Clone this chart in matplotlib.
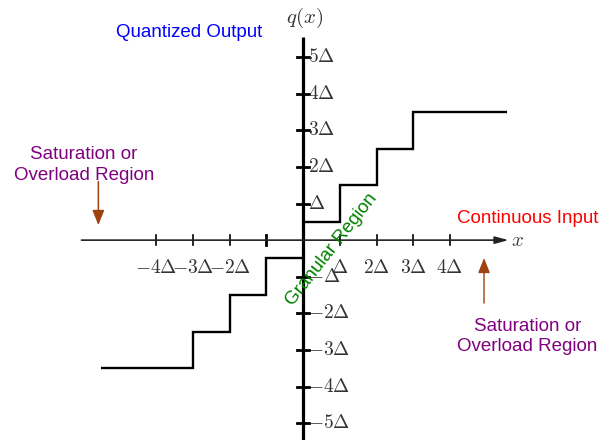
"""Uniform mid-rise quantizer characteristic q(x), drawn headless to out.png."""

import matplotlib

matplotlib.use("Agg")

import matplotlib.pyplot as plt

plt.rcParams["font.family"] = ["Liberation Sans", "DejaVu Sans"]
plt.rcParams["mathtext.fontset"] = "cm"

# staircase in units of delta
pos_edges = [0, 1, 2, 3, 5.55]
pos_levels = [0.5, 1.5, 2.5, 3.5]
neg_edges = [-5.5, -3, -2, -1, 0]
neg_levels = [-3.5, -2.5, -1.5, -0.5]

x_ticks = [-4, -3, -2, -1, 1, 2, 3, 4]
x_tick_labels = [r"$-4\Delta$", r"$-3\Delta$", r"$-2\Delta$", "",
                 r"$\Delta$", r"$2\Delta$", r"$3\Delta$", r"$4\Delta$"]
y_ticks = [5, 4, 3, 2, 1, -1, -2, -3, -4, -5]
y_tick_labels = [r"$5\Delta$", r"$4\Delta$", r"$3\Delta$", r"$2\Delta$", r"$\Delta$",
                 r"$-\Delta$", r"$-2\Delta$", r"$-3\Delta$", r"$-4\Delta$", r"$-5\Delta$"]

fig = plt.figure(figsize=(6, 4.4), dpi=100)
ax = fig.add_axes([0, 0, 1, 1])
ax.set_xlim(-8.26, 8.09)
ax.set_ylim(-5.46, 6.56)
ax.axis("off")

# axes
ax.annotate("", xy=(5.6, 0), xytext=(-6.04, 0),
            arrowprops=dict(arrowstyle="-|>,head_length=0.45,head_width=0.12",
                            color="#222222", lw=1.2, shrinkA=0, shrinkB=0,
                            mutation_scale=18))
ax.plot([0, 0], [-5.7, 5.55], color="black", lw=2.3, solid_capstyle="butt")
ax.text(5.85, 0, "$x$", fontsize=15, color="#444444", ha="center", va="center")
ax.text(0.05, 6.08, "$q(x)$", fontsize=15, color="#333333", ha="center", va="center")

# ticks
for t, lab in zip(x_ticks, x_tick_labels):
    ax.plot([t, t], [-0.14, 0.14], color="black", lw=2.0 if t == -1 else 1.2)
    if lab:
        ax.text(t, -0.75, lab, fontsize=14, color="#333333", ha="center", va="center")
for t, lab in zip(y_ticks, y_tick_labels):
    ax.plot([-0.16, 0.16], [t, t], color="black", lw=2.0)
    ax.text(0.12, t, lab, fontsize=14, color="#333333", ha="left", va="center")

# quantizer staircase
ax.stairs(pos_levels, pos_edges, baseline=None, color="black", lw=1.7)
ax.stairs(neg_levels, neg_edges, baseline=None, color="black", lw=1.7)

# annotations
ax.text(-3.11, 5.66, "Quantized Output", fontsize=13.5, color="#0000FF",
        ha="center", va="center")
ax.text(6.11, 0.6, "Continuous Input", fontsize=13.5, color="#FF0000",
        ha="center", va="center")
ax.text(-5.97, 2.05, "Saturation or\nOverload Region", fontsize=13.5, color="#800080",
        ha="center", va="center", linespacing=1.28)
ax.text(6.11, -2.63, "Saturation or\nOverload Region", fontsize=13.5, color="#800080",
        ha="center", va="center", linespacing=1.28)
ax.text(0.79, -0.27, "Granular Region", fontsize=13.5, color="#008000",
        ha="center", va="center", rotation=52, rotation_mode="anchor")

brown = "#A0420F"
ax.annotate("", xy=(-5.58, 0.41), xytext=(-5.58, 1.6),
            arrowprops=dict(arrowstyle="-|>,head_length=0.5,head_width=0.2",
                            color=brown, lw=1.1, shrinkA=0, shrinkB=0,
                            mutation_scale=18))
ax.annotate("", xy=(4.93, -0.49), xytext=(4.93, -1.72),
            arrowprops=dict(arrowstyle="-|>,head_length=0.5,head_width=0.2",
                            color=brown, lw=1.0, shrinkA=0, shrinkB=0,
                            mutation_scale=18))

fig.savefig("out.png", dpi=100)
plt.close(fig)
